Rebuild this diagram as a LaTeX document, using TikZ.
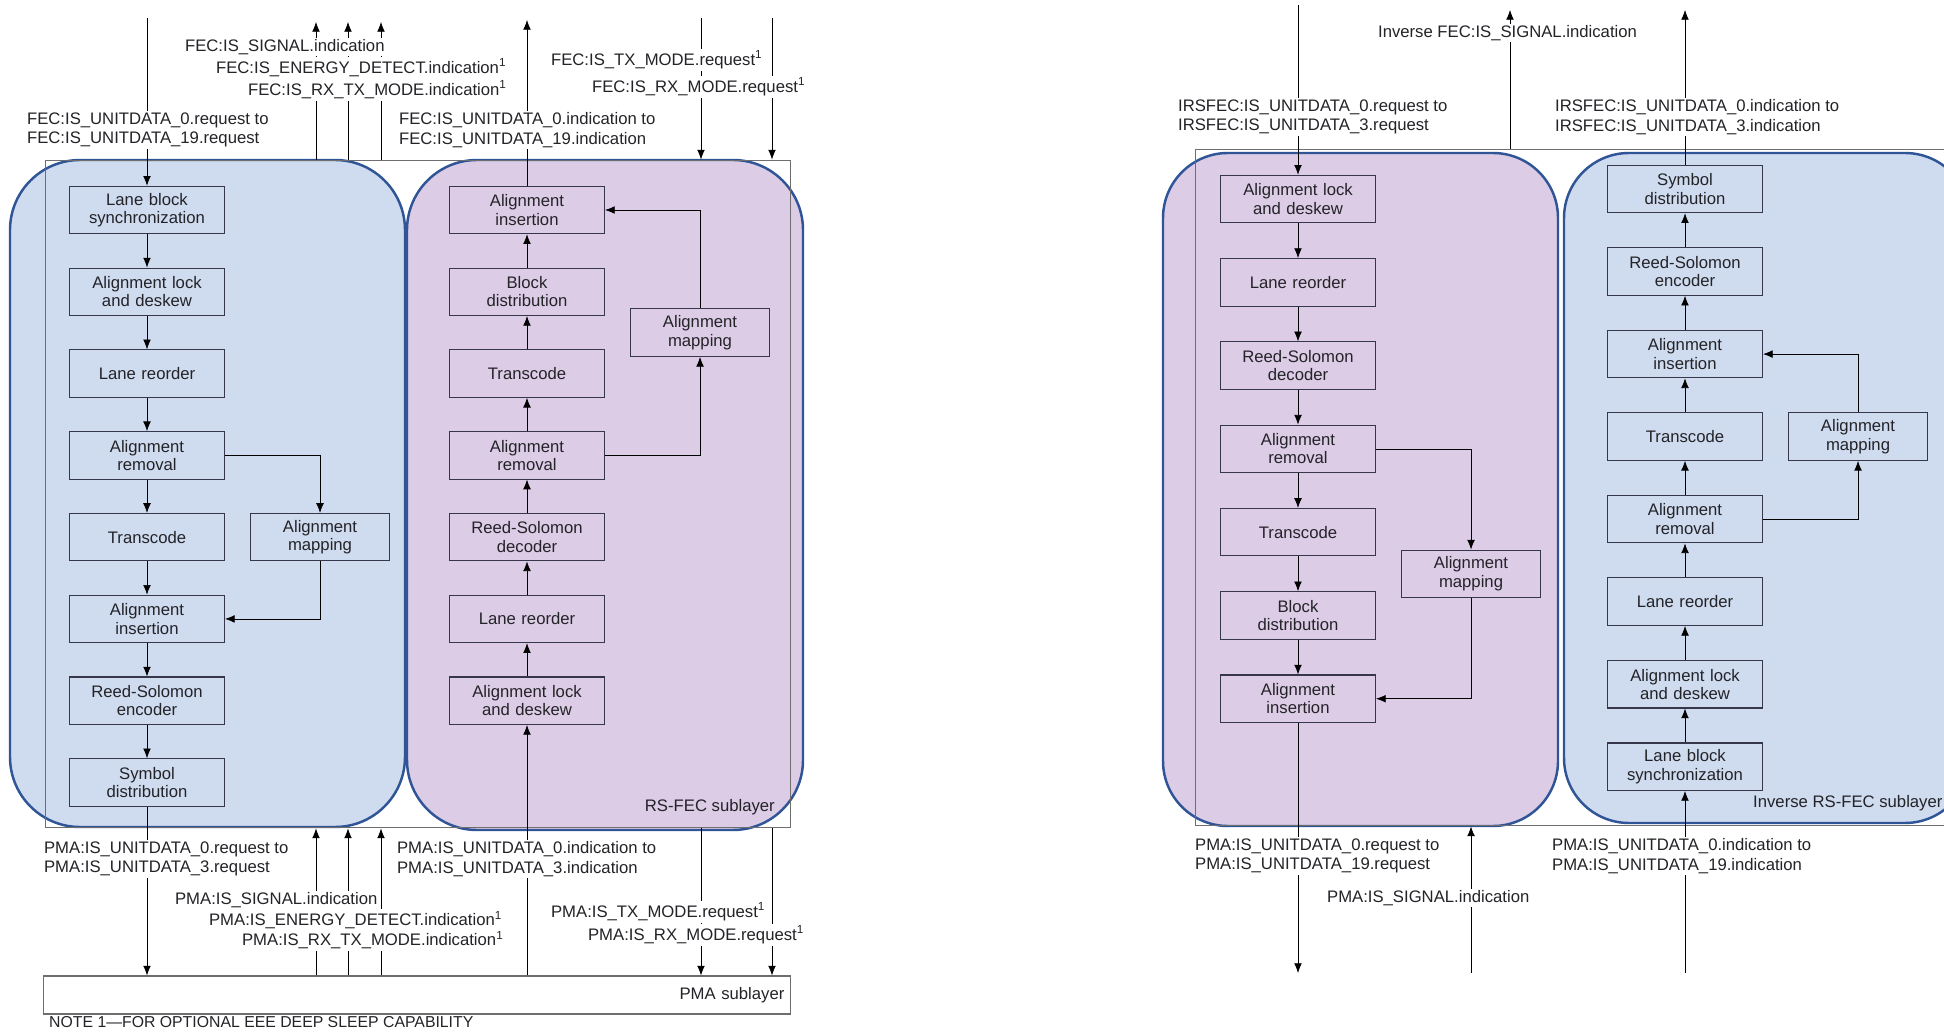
\documentclass[tikz,border=0pt]{standalone}
\usepackage{fontspec}
\setmainfont{Liberation Sans}
\usetikzlibrary{positioning,calc,arrows.meta}

\definecolor{txfill}{RGB}{207,219,238}
\definecolor{rxfill}{RGB}{220,204,230}
\definecolor{panelline}{RGB}{47,85,151}
\definecolor{boxline}{RGB}{55,55,75}
\definecolor{frameline}{RGB}{110,110,110}
\definecolor{textcol}{RGB}{35,35,40}

\tikzstyle{block} = [rectangle, draw=boxline, line width=0.6pt, text width=3.0cm, align=center, minimum width=3.1cm, minimum height=0.95cm, inner sep=1pt]
\tikzstyle{mapblock} = [block, text width=2.7cm, minimum width=2.78cm]
\tikzstyle{signal} = [fill=white, inner sep=1pt, align=left, anchor=west, font=\fontsize{9.5}{11}\selectfont]
\tikzstyle{panel} = [draw=panelline, line width=1.4pt, rounded corners=1.4cm]
\tikzstyle{frame} = [draw=frameline, line width=0.6pt, inner sep=0pt]

\begin{document}
\begin{tikzpicture}[x=0.02cm, y=-0.02cm, node distance = 6.65mm and 5mm, >={Latex[length=5.5pt,width=4.4pt]}, font=\fontsize{9.5}{10.4}\selectfont, text=textcol]

        \useasboundingbox (0,0) rectangle (1944,1033);

        % sublayer panels
        \draw [panel, fill=txfill] (10,160) rectangle (405,827);
        \draw [panel, fill=rxfill] (407,160) rectangle (803,830);
        \draw [panel, fill=rxfill, rounded corners=1.3cm] (1163,153) rectangle (1558,826);
        \draw [panel, fill=txfill, rounded corners=1.3cm] (1564,153) rectangle (1970,823);

        \node [frame, minimum width=14.92cm, minimum height=13.36cm] (rsfec) at (418,494) {};
        \node [frame, minimum width=15.9cm, minimum height=13.54cm] (irsfec) at (1592.5,487.5) {};
        \node [frame, minimum width=14.96cm, minimum height=0.76cm, text width=14.7cm, align=right] (pma) at (417,995) {PMA sublayer};

        % RS-FEC transmit
        \node [block] (lanesync) at (147,210) {Lane block\\synchronization};
        \node [block, below = of lanesync] (alignlock) {Alignment lock\\and deskew};
        \node [block, below = of alignlock] (lanereorder) {Lane reorder};
        \node [block, below = of lanereorder] (alignremoval) {Alignment\\removal};
        \node [block, below = of alignremoval] (transcode) {Transcode};
        \node [mapblock, right = of transcode] (alignmap) {Alignment\\mapping};
        \node [block, below = of transcode] (aligninsert) {Alignment\\insertion};
        \node [block, below = of aligninsert] (rsencoder) {Reed-Solomon\\encoder};
        \node [block, below = of rsencoder] (symboldist) {Symbol\\distribution};
        \draw [->] (lanesync) -- (alignlock);
        \draw [->] (alignlock) -- (lanereorder);
        \draw [->] (lanereorder) -- (alignremoval);
        \draw [->] (alignremoval) -- (transcode);
        \draw [->] (transcode) -- (aligninsert);
        \draw [->] (aligninsert) -- (rsencoder);
        \draw [->] (rsencoder) -- (symboldist);
        \draw [->] (alignremoval) -| (alignmap);
        \draw [->] (alignmap) |- (aligninsert);

        % RS-FEC receive
        \node [block] (rxaligninsert) at (527,210) {Alignment\\insertion};
        \node [block, below = of rxaligninsert] (rxblockdist) {Block\\distribution};
        \node [block, below = of rxblockdist] (rxtranscode) {Transcode};
        \node [block, below = of rxtranscode] (rxalignremoval) {Alignment\\removal};
        \node [block, below = of rxalignremoval] (rxrsdecoder) {Reed-Solomon\\decoder};
        \node [block, below = of rxrsdecoder] (rxlanereorder) {Lane reorder};
        \node [block, below = of rxlanereorder] (rxalignlock) {Alignment lock\\and deskew};
        \coordinate (rxmid) at ($(rxblockdist.east)!0.5!(rxtranscode.east)$);
        \node [mapblock, right = of rxmid] (rxalignmap) {Alignment\\mapping};
        \draw [->] (rxalignlock) -- (rxlanereorder);
        \draw [->] (rxlanereorder) -- (rxrsdecoder);
        \draw [->] (rxrsdecoder) -- (rxalignremoval);
        \draw [->] (rxalignremoval) -- (rxtranscode);
        \draw [->] (rxtranscode) -- (rxblockdist);
        \draw [->] (rxblockdist) -- (rxaligninsert);
        \draw [->] (rxalignremoval) -| (rxalignmap);
        \draw [->] (rxalignmap) |- (rxaligninsert);
        \node [anchor=east] (rsfeclbl) at (781,807) {RS-FEC sublayer};

        % FEC service interface
        \coordinate (fecin) at (147,18);
        \coordinate (fecsig) at (316,22);
        \coordinate (fecenergy) at (348,22);
        \coordinate (fecrxtx) at (381,22);
        \coordinate (fecout) at (527,20);
        \coordinate (fectx) at (701,18);
        \coordinate (fecrx) at (772,18);
        \draw [->] (fecin) -- (lanesync);
        \draw [->] (fecsig |- rsfec.north) -- (fecsig);
        \draw [->] (fecenergy |- rsfec.north) -- (fecenergy);
        \draw [->] (fecrxtx |- rsfec.north) -- (fecrxtx);
        \draw [->] (rxaligninsert) -- (fecout);
        \draw [->] (fectx) -- (fectx |- rsfec.north);
        \draw [->] (fecrx) -- (fecrx |- rsfec.north);

        % PMA service interface
        \draw [->] (symboldist) -- (symboldist |- pma.north);
        \draw [->] (fecsig |- pma.north) -- (fecsig |- rsfec.south);
        \draw [->] (fecenergy |- pma.north) -- (fecenergy |- rsfec.south);
        \draw [->] (fecrxtx |- pma.north) -- (fecrxtx |- rsfec.south);
        \draw [->] (fecout |- pma.north) -- (rxalignlock);
        \draw [->] (fectx |- rsfec.south) -- (fectx |- pma.north);
        \draw [->] (fecrx |- rsfec.south) -- (fecrx |- pma.north);

        \node [signal] (fecinlbl) at (25,130) {FEC:IS\_UNITDATA\_0.request to\\FEC:IS\_UNITDATA\_19.request};
        \node [signal] (fecsiglbl) at (183,47) {FEC:IS\_SIGNAL.indication};
        \node [signal] (fecenergylbl) at (214,68) {FEC:IS\_ENERGY\_DETECT.indication\textsuperscript{1}};
        \node [signal] (fecrxtxlbl) at (246,90) {FEC:IS\_RX\_TX\_MODE.indication\textsuperscript{1}};
        \node [signal] (fecoutlbl) at (397,130) {FEC:IS\_UNITDATA\_0.indication to\\FEC:IS\_UNITDATA\_19.indication};
        \node [signal] (fectxlbl) at (549,60) {FEC:IS\_TX\_MODE.request\textsuperscript{1}};
        \node [signal] (fecrxlbl) at (590,87) {FEC:IS\_RX\_MODE.request\textsuperscript{1}};

        \node [signal] (pmareqlbl) at (42,859) {PMA:IS\_UNITDATA\_0.request to\\PMA:IS\_UNITDATA\_3.request};
        \node [signal] (pmasiglbl) at (173,900) {PMA:IS\_SIGNAL.indication};
        \node [signal] (pmaenergylbl) at (207,920) {PMA:IS\_ENERGY\_DETECT.indication\textsuperscript{1}};
        \node [signal] (pmarxtxlbl) at (240,940) {PMA:IS\_RX\_TX\_MODE.indication\textsuperscript{1}};
        \node [signal] (pmaindlbl) at (395,859) {PMA:IS\_UNITDATA\_0.indication to\\PMA:IS\_UNITDATA\_3.indication};
        \node [signal] (pmatxlbl) at (549,912) {PMA:IS\_TX\_MODE.request\textsuperscript{1}};
        \node [signal] (pmarxlbl) at (586,935) {PMA:IS\_RX\_MODE.request\textsuperscript{1}};

        \node [anchor=west, font=\fontsize{9}{10}\selectfont] (note) at (43,1022) {NOTE 1---FOR OPTIONAL EEE DEEP SLEEP CAPABILITY};

        % inverse RS-FEC, receive side
        \node [block] (iralignlock) at (1298,199) {Alignment lock\\and deskew};
        \node [block, below = 6.95mm of iralignlock] (irlanereorder) {Lane reorder};
        \node [block, below = 6.95mm of irlanereorder] (irrsdecoder) {Reed-Solomon\\decoder};
        \node [block, below = 6.95mm of irrsdecoder] (iralignremoval) {Alignment\\removal};
        \node [block, below = 6.95mm of iralignremoval] (irtranscode) {Transcode};
        \node [block, below = 6.95mm of irtranscode] (irblockdist) {Block\\distribution};
        \node [block, below = 6.95mm of irblockdist] (iraligninsert) {Alignment\\insertion};
        \coordinate (irmid) at ($(irtranscode.east)!0.5!(irblockdist.east)$);
        \node [mapblock, right = of irmid] (iralignmap) {Alignment\\mapping};
        \draw [->] (iralignlock) -- (irlanereorder);
        \draw [->] (irlanereorder) -- (irrsdecoder);
        \draw [->] (irrsdecoder) -- (iralignremoval);
        \draw [->] (iralignremoval) -- (irtranscode);
        \draw [->] (irtranscode) -- (irblockdist);
        \draw [->] (irblockdist) -- (iraligninsert);
        \draw [->] (iralignremoval) -| (iralignmap);
        \draw [->] (iralignmap) |- (iraligninsert);

        % inverse RS-FEC, transmit side
        \node [block] (itsymboldist) at (1685,189) {Symbol\\distribution};
        \node [block, below = 6.8mm of itsymboldist] (itrsencoder) {Reed-Solomon\\encoder};
        \node [block, below = 6.8mm of itrsencoder] (italigninsert) {Alignment\\insertion};
        \node [block, below = 6.8mm of italigninsert] (ittranscode) {Transcode};
        \node [mapblock, right = of ittranscode] (italignmap) {Alignment\\mapping};
        \node [block, below = 6.8mm of ittranscode] (italignremoval) {Alignment\\removal};
        \node [block, below = 6.8mm of italignremoval] (itlanereorder) {Lane reorder};
        \node [block, below = 6.8mm of itlanereorder] (italignlock) {Alignment lock\\and deskew};
        \node [block, below = 6.8mm of italignlock] (itlanesync) {Lane block\\synchronization};
        \draw [->] (itlanesync) -- (italignlock);
        \draw [->] (italignlock) -- (itlanereorder);
        \draw [->] (itlanereorder) -- (italignremoval);
        \draw [->] (italignremoval) -- (ittranscode);
        \draw [->] (ittranscode) -- (italigninsert);
        \draw [->] (italigninsert) -- (itrsencoder);
        \draw [->] (itrsencoder) -- (itsymboldist);
        \draw [->] (italignremoval) -| (italignmap);
        \draw [->] (italignmap) |- (italigninsert);
        \node [anchor=west] (irsfeclbl) at (1747,803) {Inverse RS-FEC sublayer};

        % inverse RS-FEC interfaces
        \coordinate (irsin) at (1298,5);
        \coordinate (irssig) at (1510,10);
        \coordinate (irsout) at (1685,10);
        \coordinate (ipmareq) at (1298,973);
        \coordinate (ipmasig) at (1471,973);
        \coordinate (ipmaind) at (1685,973);
        \draw [->] (irsin) -- (iralignlock);
        \draw [->] (irssig |- irsfec.north) -- (irssig);
        \draw [->] (itsymboldist) -- (irsout);
        \draw [->] (iraligninsert) -- (ipmareq);
        \draw [->] (ipmasig) -- (ipmasig |- irsfec.south);
        \draw [->] (ipmaind) -- (itlanesync);

        \node [signal] (irssiglbl) at (1376,33) {Inverse FEC:IS\_SIGNAL.indication};
        \node [signal] (irsinlbl) at (1176,117) {IRSFEC:IS\_UNITDATA\_0.request to\\IRSFEC:IS\_UNITDATA\_3.request};
        \node [signal] (irsoutlbl) at (1553,117) {IRSFEC:IS\_UNITDATA\_0.indication to\\IRSFEC:IS\_UNITDATA\_3.indication};
        \node [signal] (ipmareqlbl) at (1193,856) {PMA:IS\_UNITDATA\_0.request to\\PMA:IS\_UNITDATA\_19.request};
        \node [signal] (ipmasiglbl) at (1325,898) {PMA:IS\_SIGNAL.indication};
        \node [signal] (ipmaindlbl) at (1550,856) {PMA:IS\_UNITDATA\_0.indication to\\PMA:IS\_UNITDATA\_19.indication};
\end{tikzpicture}
\end{document}
